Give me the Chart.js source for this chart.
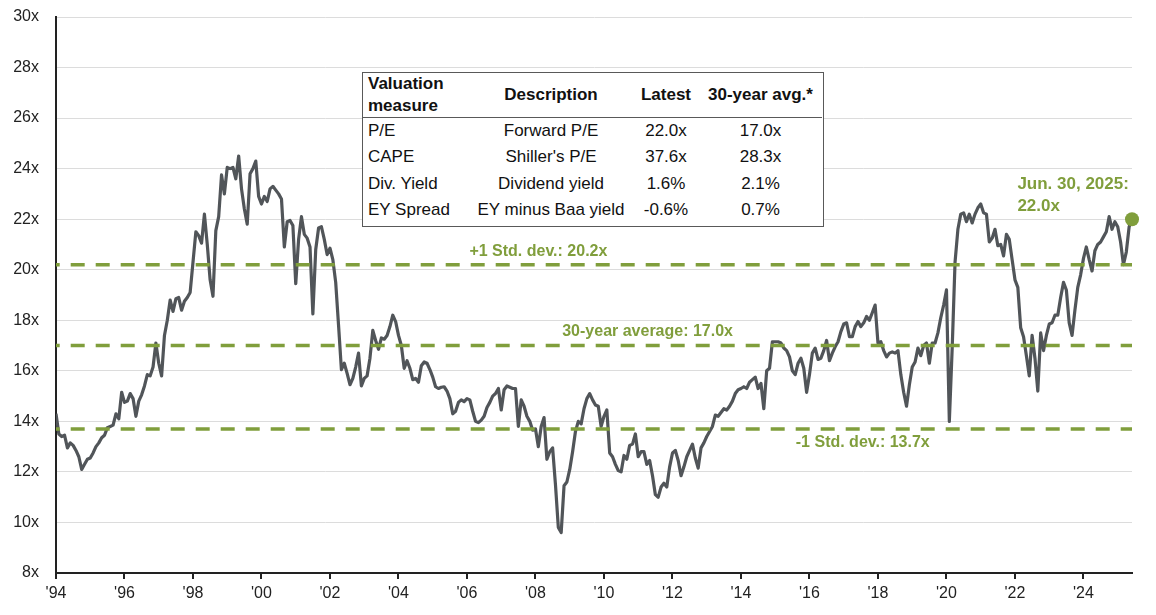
<!DOCTYPE html>
<html>
<head>
<meta charset="utf-8">
<script src="https://cdn.jsdelivr.net/npm/chart.js@4.4.1/dist/chart.umd.min.js"></script>
<style>
  html, body { margin: 0; padding: 0; background: #fff; }
  #wrap { position: relative; width: 1156px; height: 615px; font-family: "Liberation Sans", Arial, sans-serif; }
  #tbl { position: absolute; left: 362px; top: 72px; width: 462px; height: 155px; box-sizing: border-box;
         border: 1.5px solid #595959; background: #fff; display: grid;
         grid-template-columns: 106px 164px 66px 123px; grid-template-rows: 44.5px 26.5px 26.5px 26.5px 26.5px;
         font-size: 17px; color: #111; }
  #tbl div { display: flex; align-items: center; white-space: nowrap; }
  #tbl .h { font-weight: bold; border-bottom: 1.5px solid #595959; }
  #tbl .c1 { padding-left: 5px; justify-content: flex-start; }
  #tbl .cc { justify-content: center; }
  #tbl .h.c1 { line-height: 22px; }
</style>
</head>
<body>
<div id="wrap">
  <canvas id="c"></canvas>
  <div id="tbl"></div>
</div>
<script>
// ---------------- DATA ----------------
const startYear = 1994;            // first month = Jan 1994, monthly observations
const tickYears = [1994,1996,1998,2000,2002,2004,2006,2008,2010,2012,2014,2016,2018,2020,2022,2024];
const forwardPE = [
  // 1994
  14.3,13.5,13.4,13.45,12.95,13.15,13.05,12.85,12.6,12.1,12.3,12.5,
  // 1995
  12.55,12.75,13.0,13.15,13.35,13.45,13.75,13.8,13.85,14.3,14.1,15.15,
  // 1996
  14.75,14.8,15.1,14.9,14.2,14.8,15.05,15.4,15.85,15.8,16.15,17.1,
  // 1997
  16.3,15.8,17.4,18.0,18.8,18.35,18.85,18.9,18.4,18.75,18.9,19.1,
  // 1998
  20.3,21.5,21.35,21.05,22.2,21.0,19.6,18.95,21.55,22.1,23.75,23.0,
  // 1999
  24.05,24.0,24.05,23.6,24.5,23.2,22.4,21.8,23.8,24.0,24.3,22.9,
  // 2000
  22.6,22.9,22.7,23.2,23.3,23.15,23.0,22.8,20.9,21.9,21.95,21.75,
  // 2001
  19.45,21.2,22.1,21.4,21.25,20.9,18.25,20.8,21.65,21.7,21.2,20.6,
  // 2002
  20.85,20.4,19.5,17.8,16.05,16.3,15.9,15.45,15.7,16.15,16.7,15.4,
  // 2003
  15.7,15.8,16.5,17.6,17.2,16.85,17.3,17.25,17.4,17.75,18.2,17.95,
  // 2004
  17.4,17.0,16.1,16.4,16.1,15.65,15.7,15.55,16.2,16.35,16.3,16.05,
  // 2005
  15.75,15.37,15.3,15.35,15.37,15.2,14.9,14.3,14.4,14.75,14.85,14.78,
  // 2006
  14.9,14.85,14.4,14.0,13.95,14.05,14.2,14.55,14.75,15.0,15.1,15.3,
  // 2007
  14.45,15.25,15.4,15.35,15.3,15.3,13.8,14.85,14.6,14.2,14.0,13.65,
  // 2008
  13.7,13.0,13.8,14.15,12.5,12.8,12.95,11.5,9.8,9.6,11.45,11.6,
  // 2009
  12.1,12.8,13.6,14.0,13.9,14.5,14.9,15.1,14.85,14.65,14.6,13.8,
  // 2010
  14.2,14.45,12.75,12.6,12.3,12.05,12.0,12.65,12.5,13.05,13.1,13.5,
  // 2011
  12.6,12.8,12.8,12.3,12.45,11.85,11.1,11.0,11.4,11.55,11.4,12.2,
  // 2012
  12.75,12.85,12.45,11.85,12.2,12.6,12.85,13.1,12.55,12.15,12.95,13.15,
  // 2013
  13.4,13.6,13.8,14.25,14.2,14.35,14.5,14.45,14.6,14.8,15.1,15.25,
  // 2014
  15.3,15.37,15.3,15.55,15.65,15.75,15.3,15.5,14.5,16.0,16.1,17.15,
  // 2015
  17.15,17.15,17.1,16.9,16.8,16.55,16.0,15.85,16.3,16.5,16.1,15.15,
  // 2016
  15.85,16.7,16.9,16.45,16.5,16.8,17.2,16.4,16.7,16.95,17.15,17.55,
  // 2017
  17.85,17.9,17.35,17.35,17.75,17.95,17.75,17.9,18.15,18.0,18.3,18.6,
  // 2018
  17.1,17.15,16.8,16.55,16.7,16.75,16.7,16.8,15.85,15.15,14.6,15.45,
  // 2019
  16.15,16.35,16.9,16.6,17.0,17.1,16.3,17.1,17.1,17.5,18.1,18.6,
  // 2020
  19.2,14.0,16.9,20.3,21.6,22.2,22.25,21.9,22.2,21.85,22.2,22.45,
  // 2021
  22.6,22.25,22.2,21.1,21.25,21.6,20.95,21.0,20.55,21.4,21.2,20.4,
  // 2022
  19.6,19.3,17.7,17.35,16.6,15.8,17.4,16.5,15.2,17.5,16.8,17.4,
  // 2023
  17.85,17.9,18.2,18.2,18.9,19.5,19.2,17.9,17.4,18.4,19.3,19.8,
  // 2024
  20.45,20.9,20.4,19.95,20.75,21.0,21.1,21.3,21.5,22.1,21.6,21.9,
  // 2025 (Jan-Jun)
  21.7,21.1,20.2,20.7,21.7,22.0
];
const refValues = [20.2, 17.0, 13.7];
const refLabels = ['+1 Std. dev.: 20.2x', '30-year average: 17.0x', '-1 Std. dev.: 13.7x'];
const latestLabel = ['Jun. 30, 2025:', '22.0x'];

const tableHeader = ['Valuation<br>measure', 'Description', 'Latest', '30-year avg.*'];
const tableMeasure = ['P/E', 'CAPE', 'Div. Yield', 'EY Spread'];
const tableDesc = ['Forward P/E', "Shiller's P/E", 'Dividend yield', 'EY minus Baa yield'];
const tableLatest = ['22.0x', '37.6x', '1.6%', '-0.6%'];
const tableAvg = ['17.0x', '28.3x', '2.1%', '0.7%'];

// ---------------- STYLE ----------------
const GREEN = '#809e3c';
const LINE = '#515559';
const FONT = '"Liberation Sans", Arial, sans-serif';

// ---------------- TABLE ----------------
(function buildTable(){
  const t = document.getElementById('tbl');
  let html = '';
  tableHeader.forEach((h, i) => {
    html += `<div class="h ${i === 0 ? 'c1' : 'cc'}">${h}</div>`;
  });
  for (let r = 0; r < tableMeasure.length; r++) {
    html += `<div class="c1">${tableMeasure[r]}</div>`;
    html += `<div class="cc">${tableDesc[r]}</div>`;
    html += `<div class="cc">${tableLatest[r]}</div>`;
    html += `<div class="cc">${tableAvg[r]}</div>`;
  }
  t.innerHTML = html;
})();

// ---------------- CHART ----------------
const points = forwardPE.map((v, i) => ({ x: startYear + i / 12, y: v }));
const xMin = startYear;
const xMax = startYear + (forwardPE.length - 1) / 12;
const lastPoint = points[points.length - 1];

const refDatasets = refValues.map(v => ({
  type: 'line',
  data: [{ x: xMin, y: v }, { x: xMax, y: v }],
  borderColor: GREEN,
  borderWidth: 3.5,
  borderDash: [14, 11],
  borderDashOffset: 10.3,
  pointRadius: 0,
  order: 1
}));

const annotPlugin = {
  id: 'annot',
  afterDatasetsDraw(chart) {
    const { ctx, scales: { x, y } } = chart;
    ctx.save();
    ctx.fillStyle = GREEN;
    ctx.textBaseline = 'middle';
    ctx.textAlign = 'left';
    ctx.font = 'bold 16px ' + FONT;
    // label anchors (year along x, pixel offset from the reference line)
    const anchors = [[2006.07, -13], [2008.78, -13.5], [2015.6, 14]];
    refValues.forEach((v, i) => {
      ctx.fillText(refLabels[i], x.getPixelForValue(anchors[i][0]), y.getPixelForValue(v) + anchors[i][1]);
    });
    ctx.font = 'bold 17px ' + FONT;
    const lx = x.getPixelForValue(2022.07);
    const ly = y.getPixelForValue(lastPoint.y);
    ctx.fillText(latestLabel[0], lx, ly - 35);
    ctx.fillText(latestLabel[1], lx, ly - 13);
    ctx.restore();
  }
};

Chart.defaults.font.family = FONT;

new Chart(document.getElementById('c'), {
  type: 'line',
  data: {
    datasets: [
      {
        type: 'scatter',
        data: [lastPoint],
        pointRadius: 7,
        pointBackgroundColor: GREEN,
        pointBorderColor: GREEN,
        pointBorderWidth: 0,
        showLine: false,
        clip: false,
        order: 0
      },
      ...refDatasets,
      {
        type: 'line',
        data: points,
        borderColor: LINE,
        borderWidth: 3.2,
        pointRadius: 0,
        tension: 0,
        borderJoinStyle: 'round',
        order: 2
      }
    ]
  },
  options: {
    responsive: true,
    maintainAspectRatio: false,
    animation: false,
    layout: { padding: { top: 17, right: 24, left: 0, bottom: 0 } },
    plugins: { legend: { display: false }, tooltip: { enabled: false } },
    scales: {
      x: {
        type: 'linear',
        min: xMin,
        max: xMax,
        afterBuildTicks(scale) { scale.ticks = tickYears.map(v => ({ value: v })); },
        afterFit(scale) { scale.height = 42; scale.paddingLeft = 0; scale.paddingRight = 0; },
        ticks: {
          callback: v => "'" + String(v).slice(2),
          font: { size: 16 },
          color: '#222',
          padding: 5,
          maxRotation: 0,
          autoSkip: false
        },
        grid: { drawOnChartArea: false, drawTicks: true, tickLength: 6, color: '#222', lineWidth: 2 },
        border: { color: '#222', width: 2 }
      },
      y: {
        min: 8,
        max: 30,
        afterFit(scale) { scale.width = 56; scale.paddingTop = 0; scale.paddingBottom = 0; },
        ticks: {
          stepSize: 2,
          callback: v => v + 'x',
          font: { size: 16 },
          color: '#222',
          padding: 17
        },
        grid: { color: '#dcdcdc', lineWidth: 1, drawTicks: false },
        border: { color: '#222', width: 2 }
      }
    }
  },
  plugins: [annotPlugin]
});
</script>
</body>
</html>
